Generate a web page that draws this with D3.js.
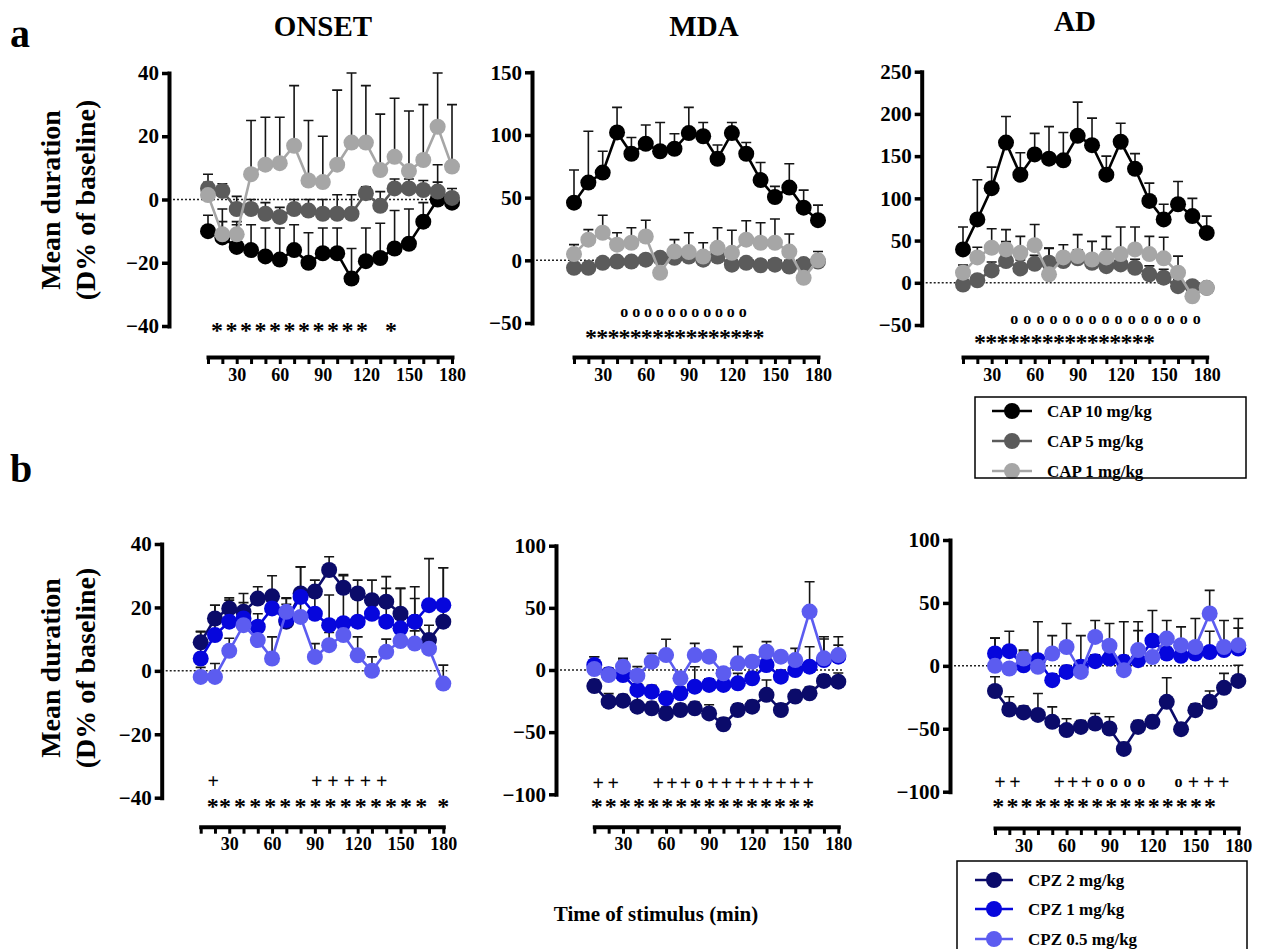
<!DOCTYPE html>
<html>
<head>
<meta charset="utf-8">
<script src="https://cdn.jsdelivr.net/npm/d3@7"></script>
<style>
    body {margin: 0; background: #fff;}
    svg text {font-family: "Liberation Serif", "Times New Roman", serif; font-weight: bold; fill: #000;}
</style>
</head>
<body>
<svg id="fig" width="1263" height="949"></svg>
<script>
// time points (min)
const times = [10, 20, 30, 40, 50, 60, 70, 80, 90, 100, 110, 120, 130, 140, 150, 160, 170, 180];
const xTickLabels = [30, 60, 90, 120, 150, 180];

// ---- a: capsaicin ----
const onsetCap10 = [-10, -12, -15, -16, -18, -19, -16, -20, -17, -17, -25, -19.5, -18.5, -15.5, -14, -7, 0, -1];
const onsetCap10Sem = [5, 5, 7, 8, 9, 10, 8, 9.5, 8, 8, 9.5, 10.5, 11, 12, 11, 6, 11, 3];
const onsetCap5 = [3.5, 2.7, -3, -3, -4.5, -5.5, -3, -3.5, -4.5, -4.5, -4.5, 2, -2, 3.5, 3.5, 3, 2.5, 0.5];
const onsetCap5Sem = [4.5, 2.3, 4, 3, 3.5, 3, 3, 3.5, 4.5, 6, 6, 2, 4.5, 3, 3, 3, 3, 3];
const onsetCap1 = [1.4, -11, -11, 8, 11, 11.5, 17, 6, 5.5, 11, 18, 18, 9.3, 13.5, 9, 12.5, 23, 10.4];
const onsetCap1Sem = [4, 8, 4, 17, 15, 14.5, 19, 19, 14.5, 23.6, 22, 18, 17.7, 18.5, 19, 17.5, 17, 19.6];

const mdaCap10 = [46, 62, 70, 102, 85, 93, 87, 89, 101.5, 99, 81, 101.5, 85, 64, 50.5, 58, 42, 32];
const mdaCap10Sem = [26, 41, 17, 20, 13, 15, 23, 12, 20.5, 11, 11, 8.5, 9, 14, 8.5, 19, 14, 12];
const mdaCap5 = [-6, -6, -2, -1, -1, 0.5, 2, 2, 3, 0.5, 3, -3.5, -2, -4, -3.5, -5, -3, -1];
const mdaCap5Sem = [2, 2, 2, 2, 2, 2, 3, 2, 2, 2, 2, 2, 2, 2, 2, 2, 2, 2];
const mdaCap1 = [5, 16.5, 22, 12.5, 14, 19, -10, 7, 6.6, 3, 10, 6, 16.5, 14, 14, 7, -14, 0];
const mdaCap1Sem = [7.5, 8, 14, 9.5, 12, 13, 10, 9.5, 15.4, 11, 16, 18, 15.1, 16, 19, 14, 5, 7];

const adCap10 = [39.5, 75, 112, 166, 128, 152, 147, 145, 174, 163, 128, 167, 135, 97, 75, 93, 79, 59];
const adCap10Sem = [26.5, 47, 25, 31, 26, 25, 38, 33, 40, 32, 22, 22, 18, 21, 18, 27, 21, 20];
const adCap5 = [-2, 3, 14.6, 25.7, 17, 22.5, 23.7, 25.7, 29, 23.7, 19.7, 21.7, 17.8, 10, 6, -4, -4, -6];
const adCap5Sem = [5, 5, 10, 23, 10, 10, 17, 10, 10, 10, 20, 10, 10, 10, 10, 8, 4, 4];
const adCap1 = [12, 30, 41.5, 39.5, 35.5, 44.6, 10, 30, 31.6, 27.6, 30, 34, 39.5, 34, 29, 12, -16, -6];
const adCap1Sem = [9, 12, 22.5, 23.5, 19.5, 24.4, 31, 15, 25.4, 21.4, 25, 32, 26.5, 21, 25, 19.6, 5, 4];

// ---- b: chlorpromazine ----
const onsetCpz2 = [9, 16.5, 19.7, 18.6, 22.8, 23.5, 15.5, 24.4, 25, 31.8, 26.2, 24.4, 22.3, 21.8, 18, 15.5, 9.7, 15.5];
const onsetCpz2Sem = [3.5, 4.2, 3.3, 5.8, 3.7, 6.5, 7.5, 8.4, 3.6, 4.2, 4.2, 4.2, 6.3, 7.9, 8, 11, 4.7, 17];
const onsetCpz1 = [3.9, 11.3, 15.5, 16.5, 13.9, 19.7, 16, 23.3, 18, 14.4, 15, 15.5, 18, 15.5, 13.4, 15.5, 20.7, 20.7];
const onsetCpz1Sem = [8.4, 9.4, 6.8, 5, 4.1, 5, 5, 9.5, 8, 9.5, 15, 8.5, 5.9, 10.5, 12.6, 7.3, 14.7, 11.8];
const onsetCpz05 = [-1.9, -1.9, 6.3, 14.4, 9.7, 3.9, 18.6, 17, 4.4, 8.1, 11.3, 4.9, 0, 6, 9.4, 8.6, 7, -4];
const onsetCpz05Sem = [3, 4.2, 4, 4, 4, 6.8, 4.2, 5, 4.2, 4, 4, 5.8, 4.4, 4, 4, 4, 4, 5.8];

const mdaCpz2 = [-12.9, -25.5, -24.7, -29.5, -30.8, -34.9, -32.2, -30.8, -34.9, -43.7, -32.2, -29.5, -20, -32.2, -21.4, -18.8, -8.8, -9.4];
const mdaCpz2Sem = [5, 6.5, 5, 12, 5, 5, 5, 5, 7, 5, 5, 5, 12, 5, 5, 5, 5, 7];
const mdaCpz1 = [4, -3.5, -4, -16, -17.4, -22.8, -18.8, -13.4, -12, -12, -10.7, -6.7, 4, -5.4, 0, 2.7, 8, 10.7];
const mdaCpz1Sem = [6.7, 5, 12, 5, 5, 5, 5, 16, 5, 5, 8, 5, 5, 5, 5, 16, 17, 9.3];
const mdaCpz05 = [0.8, -4, 2.7, -4.6, 6.7, 12, -6.7, 12, 10.7, -2.7, 5.4, 6.7, 14.7, 10.7, 8, 47, 9.4, 12];
const mdaCpz05Sem = [9.9, 4, 6.7, 7.3, 6.7, 12.7, 4, 9.4, 4, 4, 13.4, 4, 8.1, 4, 9.4, 24, 17.4, 14.8];

const adCpz2 = [-20, -34.7, -37, -39, -44.5, -51, -48.5, -45.8, -49.8, -66, -48.5, -44.5, -28.6, -50.3, -35.2, -28.6, -17.5, -12];
const adCpz2Sem = [11.3, 10.1, 5, 17, 11.9, 9, 5, 7.9, 9.3, 5, 5, 5, 19.1, 5, 5, 8.6, 11.5, 12.5];
const adCpz1 = [9.8, 11.7, 0.5, 4.5, -11.4, -4.8, -0.8, 3.7, 5.8, 3.2, 4.5, 20, 9.8, 8, 9.8, 11, 12.5, 13.8];
const adCpz1Sem = [12.2, 15.8, 10.5, 30.5, 5, 5, 5, 5, 5, 5, 23.5, 24, 5, 5, 5, 16.5, 5, 16.2];
const adCpz05 = [0, -2.1, 5.8, -0.8, 9.8, 15, -4.8, 23, 16, -3.4, 12.5, 7, 21.7, 16.4, 15, 41.6, 15, 16.4];
const adCpz05Sem = [22, 4, 6.7, 4, 14.2, 18.6, 28.8, 13, 17.6, 38.4, 22.5, 4, 14.3, 14.6, 22.6, 18.4, 21, 21.2];

// legend labels
const capLabels = ["CAP 10 mg/kg", "CAP 5 mg/kg", "CAP 1 mg/kg"];
const cpzLabels = ["CPZ 2 mg/kg", "CPZ 1 mg/kg", "CPZ 0.5 mg/kg"];
const capColors = ["#000000", "#5b5b5b", "#a6a6a6"];
const cpzColors = ["#0b0b6a", "#0606dc", "#5c5cf0"];

// significance marks: text, first/last glyph edge in minutes (or centre), y value
const onsetANotes = [
    {text: "*********** *", t0: 12.8, t1: 141, v: -40}
];
const mdaANotes = [
    {text: "ooooooooooo", t0: 41.6, t1: 131, v: -42},
    {text: "****************", t0: 18.4, t1: 142, v: -57.8}
];
const adANotes = [
    {text: "ooooooooooooooo", t0: 42.3, t1: 176.6, v: -43.5},
    {text: "****************", t0: 18.4, t1: 143.3, v: -65}
];
const onsetBNotes = [
    {text: "+", t0: 18.8, v: -35.2},
    {text: "+++++", t0: 87.8, t1: 140.3, v: -35.2},
    {text: "*", t0: 18.5, v: -41.3},
    {text: "**************", t0: 23.5, t1: 168, v: -41.3},
    {text: "*", t0: 180, v: -41.3}
];
const mdaBNotes = [
    {text: "++", t0: 9.3, t1: 26.7, v: -91.5},
    {text: "+++o++++++++", t0: 51.1, t1: 162.6, v: -91.5},
    {text: "****************", t0: 8.2, t1: 162.6, v: -106}
];
const adBNotes = [
    {text: "++", t0: 10, t1: 27.5, v: -92.8},
    {text: "+++oooo", t0: 51.3, t1: 115.7, v: -92.8},
    {text: "o+++", t0: 134.7, t1: 173.3, v: -92.8},
    {text: "****************", t0: 8.8, t1: 163.8, v: -108}
];

// glyph size and baseline shift (fraction of size) so the glyph sits centred on the row
const glyphStyle = {
    "*": {size: 24, off: 0.52},
    "+": {size: 20, off: 0.3},
    "o": {size: 16, off: 0.25},
    " ": {size: 16, off: 0.25}
};

function series(vals, sems, color) {
    return {vals: vals, sems: sems, color: color};
}

const panels = [
    {title: "ONSET", titleX: 323, titleY: 36, x0: 208, x1: 452, yAxisX: 169, yTop: 73, yBot: 326, xAxisY: 357,
        yDomain: [-40, 40], yTicks: [-40, -20, 0, 20, 40], notes: onsetANotes,
        series: [series(onsetCap10, onsetCap10Sem, capColors[0]), series(onsetCap5, onsetCap5Sem, capColors[1]), series(onsetCap1, onsetCap1Sem, capColors[2])]},
    {title: "MDA", titleX: 704, titleY: 36, x0: 574, x1: 818, yAxisX: 532, yTop: 72.3, yBot: 323, xAxisY: 357,
        yDomain: [-50, 150], yTicks: [-50, 0, 50, 100, 150], notes: mdaANotes,
        series: [series(mdaCap10, mdaCap10Sem, capColors[0]), series(mdaCap5, mdaCap5Sem, capColors[1]), series(mdaCap1, mdaCap1Sem, capColors[2])]},
    {title: "AD", titleX: 1075, titleY: 31, x0: 963, x1: 1206.7, yAxisX: 921.7, yTop: 71.7, yBot: 325, xAxisY: 357,
        yDomain: [-50, 250], yTicks: [-50, 0, 50, 100, 150, 200, 250], notes: adANotes,
        series: [series(adCap10, adCap10Sem, capColors[0]), series(adCap5, adCap5Sem, capColors[1]), series(adCap1, adCap1Sem, capColors[2])]},
    {x0: 200.7, x1: 443.3, yAxisX: 161.7, yTop: 544, yBot: 797.7, xAxisY: 826.7,
        yDomain: [-40, 40], yTicks: [-40, -20, 0, 20, 40], notes: onsetBNotes,
        series: [series(onsetCpz2, onsetCpz2Sem, cpzColors[0]), series(onsetCpz1, onsetCpz1Sem, cpzColors[1]), series(onsetCpz05, onsetCpz05Sem, cpzColors[2])]},
    {x0: 594.3, x1: 838.3, yAxisX: 556, yTop: 545.7, yBot: 794.3, xAxisY: 826.7,
        yDomain: [-100, 100], yTicks: [-100, -50, 0, 50, 100], notes: mdaBNotes,
        series: [series(mdaCpz2, mdaCpz2Sem, cpzColors[0]), series(mdaCpz1, mdaCpz1Sem, cpzColors[1]), series(mdaCpz05, mdaCpz05Sem, cpzColors[2])]},
    {x0: 995, x1: 1238.3, yAxisX: 950, yTop: 540, yBot: 791.7, xAxisY: 828,
        yDomain: [-100, 100], yTicks: [-100, -50, 0, 50, 100], notes: adBNotes,
        series: [series(adCpz2, adCpz2Sem, cpzColors[0]), series(adCpz1, adCpz1Sem, cpzColors[1]), series(adCpz05, adCpz05Sem, cpzColors[2])]}
];

const svg = d3.select("#fig");

function drawPanel(p) {
    const x = d3.scaleLinear().domain([10, 180]).range([p.x0, p.x1]);
    const y = d3.scaleLinear().domain(p.yDomain).range([p.yBot, p.yTop]);
    const g = svg.append("g");

    if (p.title) {
        g.append("text")
            .attr("x", p.titleX)
            .attr("y", p.titleY)
            .attr("text-anchor", "middle")
            .style("font-size", "29px")
            .text(p.title);
    }

    // dotted baseline
    g.append("line")
        .attr("x1", p.yAxisX)
        .attr("x2", x(180) + 4)
        .attr("y1", y(0))
        .attr("y2", y(0))
        .attr("stroke", "#222")
        .attr("stroke-width", 1.5)
        .attr("stroke-dasharray", "2,2");

    const yAxis = g.append("g")
        .attr("transform", "translate(" + p.yAxisX + ",0)")
        .call(d3.axisLeft(y).tickValues(p.yTicks).tickSize(7).tickSizeOuter(0).tickPadding(3));
    yAxis.select(".domain").attr("stroke-width", 4).attr("stroke-linecap", "square");
    yAxis.selectAll(".tick line").attr("stroke-width", 3.5);
    yAxis.selectAll(".tick text").style("font-size", "21px");

    const xAxis = g.append("g")
        .attr("transform", "translate(0," + p.xAxisY + ")")
        .call(d3.axisBottom(x).tickValues(times).tickSize(7).tickSizeOuter(0).tickPadding(4)
            .tickFormat(d => xTickLabels.includes(d) ? d : ""));
    xAxis.select(".domain").attr("stroke-width", 4).attr("stroke-linecap", "square");
    xAxis.selectAll(".tick line").attr("stroke-width", 3);
    xAxis.selectAll(".tick text").style("font-size", "18px");

    // error bars (upper only)
    const errG = g.append("g");
    p.series.forEach(s => {
        const pts = times.map((t, i) => ({t: t, v: s.vals[i], e: s.sems[i]}));
        errG.selectAll(null)
            .data(pts)
            .enter()
            .append("path")
            .attr("d", d => "M" + x(d.t) + "," + y(d.v) + "V" + y(d.v + d.e) +
                "M" + (x(d.t) - 5) + "," + y(d.v + d.e) + "H" + (x(d.t) + 5))
            .attr("fill", "none")
            .attr("stroke", "#151515")
            .attr("stroke-width", 1.6);
    });

    // lines + markers
    const line = d3.line()
        .x(d => x(d.t))
        .y(d => y(d.v));
    p.series.forEach(s => {
        const pts = times.map((t, i) => ({t: t, v: s.vals[i]}));
        g.append("path")
            .datum(pts)
            .attr("d", line)
            .attr("fill", "none")
            .attr("stroke", s.color)
            .attr("stroke-width", 2.6);
        g.append("g").selectAll("circle")
            .data(pts)
            .enter()
            .append("circle")
            .attr("cx", d => x(d.t))
            .attr("cy", d => y(d.v))
            .attr("r", 8)
            .attr("fill", s.color);
    });

    // significance marks, one text per row, glyphs spread evenly
    p.notes.forEach(n => {
        const chars = Array.from(n.text);
        const half = 5;
        let centres;
        if (n.t1 === undefined) {
            centres = [x(n.t0)];
        } else {
            const a = x(n.t0) + half, b = x(n.t1) - half;
            const step = chars.length > 1 ? (b - a) / (chars.length - 1) : 0;
            centres = chars.map((c, i) => a + i * step);
        }
        const txt = g.append("text").attr("text-anchor", "middle");
        chars.forEach((c, i) => {
            const st = glyphStyle[c];
            txt.append("tspan")
                .attr("x", centres[i])
                .attr("y", y(n.v) + st.size * st.off)
                .style("font-size", st.size + "px")
                .text(c);
        });
    });
}

panels.forEach(drawPanel);

// panel letters
svg.append("text").attr("x", 10).attr("y", 47).style("font-size", "40px").text("a");
svg.append("text").attr("x", 10).attr("y", 482).style("font-size", "40px").text("b");

// y titles
[200, 668].forEach(cy => {
    svg.append("text")
        .attr("transform", "translate(60," + cy + ") rotate(-90)")
        .attr("text-anchor", "middle")
        .style("font-size", "28px")
        .text("Mean duration");
    svg.append("text")
        .attr("transform", "translate(95," + cy + ") rotate(-90)")
        .attr("text-anchor", "middle")
        .style("font-size", "28px")
        .text("(D% of baseline)");
});

// x title
svg.append("text")
    .attr("x", 656)
    .attr("y", 921)
    .attr("text-anchor", "middle")
    .style("font-size", "21px")
    .text("Time of stimulus (min)");

// legends
function drawLegend(box, labels, colors, lineX, textX, rowY) {
    const lg = svg.append("g");
    labels.forEach((lab, i) => {
        lg.append("line")
            .attr("x1", lineX[0]).attr("x2", lineX[1])
            .attr("y1", rowY[i]).attr("y2", rowY[i])
            .attr("stroke", colors[i]).attr("stroke-width", 2.6);
        lg.append("circle")
            .attr("cx", (lineX[0] + lineX[1]) / 2).attr("cy", rowY[i])
            .attr("r", 8).attr("fill", colors[i]);
        lg.append("text")
            .attr("x", textX).attr("y", rowY[i] + 6)
            .style("font-size", "17px")
            .text(lab);
    });
    lg.append("rect")
        .attr("x", box[0]).attr("y", box[1])
        .attr("width", box[2]).attr("height", box[3])
        .attr("fill", "none").attr("stroke", "#000").attr("stroke-width", 1.5);
}

drawLegend([975, 397, 271, 81], capLabels, capColors, [992, 1032], 1047, [411, 441, 471]);
drawLegend([957, 861, 290, 100], cpzLabels, cpzColors, [975, 1013], 1028, [880, 909, 939]);
</script>
</body>
</html>
